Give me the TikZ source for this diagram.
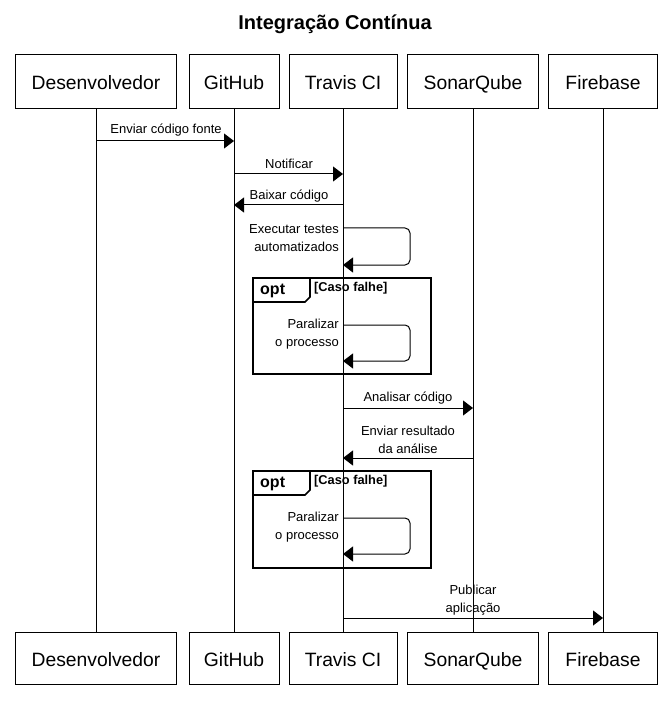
\documentclass[tikz,border=0pt]{standalone}
\usepackage{fontspec}
\setmainfont{Liberation Sans}
\usetikzlibrary{arrows.meta}
\begin{document}
\begin{tikzpicture}[x=1pt,y=-1pt,
 actor/.style={draw, line width=1pt, minimum height=54pt, inner sep=0pt, text height=16pt, text depth=0pt, font=\fontsize{19.3}{22}\selectfont},
 life/.style={line width=1pt},
 msg/.style={line width=1pt, -{Triangle[length=10pt,width=15pt]}},
 selfmsg/.style={line width=1pt, rounded corners=5pt, -{Triangle[length=10pt,width=15pt]}},
 lbl/.style={font=\fontsize{13}{18}\selectfont, inner sep=0pt},
 rlbl/.style={lbl, anchor=east, align=right},
 frm/.style={line width=1.6pt},
 optlbl/.style={font=\fontsize{16}{19}\bfseries\selectfont, inner sep=0pt, anchor=west},
 condlbl/.style={font=\fontsize{12.8}{15}\bfseries\selectfont, inner sep=0pt, anchor=west},
]
\useasboundingbox (0,0) rectangle (670,708);
\node[font=\fontsize{20}{24}\bfseries\selectfont, inner sep=0pt] (title) at (335,24) {Integração Contínua};

% actors top
\node[actor, minimum width=161pt] (dT) at (96,82) {Desenvolvedor};
\node[actor, minimum width=90pt] (gT) at (234,82) {GitHub};
\node[actor, minimum width=108pt] (tT) at (343,82) {Travis CI};
\node[actor, minimum width=131pt] (sT) at (473,82) {SonarQube};
\node[actor, minimum width=109pt] (fT) at (603,82) {Firebase};
% actors bottom
\node[actor, minimum width=161pt, minimum height=52pt] (dB) at (96,658) {Desenvolvedor};
\node[actor, minimum width=90pt, minimum height=52pt] (gB) at (234,658) {GitHub};
\node[actor, minimum width=108pt, minimum height=52pt] (tB) at (343,658) {Travis CI};
\node[actor, minimum width=131pt, minimum height=52pt] (sB) at (473,658) {SonarQube};
\node[actor, minimum width=109pt, minimum height=52pt] (fB) at (603,658) {Firebase};

% lifelines
\draw[life] (dT.south) -- (dB.north);
\draw[life] (gT.south) -- (gB.north);
\draw[life] (tT.south) -- (tB.north);
\draw[life] (sT.south) -- (sB.north);
\draw[life] (fT.south) -- (fB.north);

% frames
\draw[frm] (253,278) rectangle (431,374);
\draw[frm] (253,278) -- (310,278) -- (310,297) -- (305,302) -- (253,302);
\node[optlbl] (opt1) at (260,291) {opt};
\node[condlbl] (cond1) at (314,288) {[Caso falhe]};

\draw[frm] (253,471) rectangle (431,568);
\draw[frm] (253,471) -- (310,471) -- (310,490) -- (305,495) -- (253,495);
\node[optlbl] (opt2) at (260,484) {opt};
\node[condlbl] (cond2) at (314,481) {[Caso falhe]};

% messages
\draw[msg] (dT.south |- 0,141) -- (gT.south |- 0,141);
\node[lbl] (l1) at (166,130) {Enviar código fonte};

\draw[msg] (gT.south |- 0,174) -- (tT.south |- 0,174);
\node[lbl] (l2) at (289,164) {Notificar};

\draw[msg] (tT.south |- 0,205) -- (gT.south |- 0,205);
\node[lbl] (l3) at (289,196) {Baixar código};

\draw[selfmsg] (tT.south |- 0,228) -- (410,228) -- (410,265) -- (tT.south |- 0,265);
\node[rlbl] (l4) at (339,238) {Executar testes\\automatizados};

\draw[selfmsg] (tT.south |- 0,325) -- (410,325) -- (410,361) -- (tT.south |- 0,361);
\node[rlbl] (l5) at (339,334) {Paralizar\\o processo};

\draw[msg] (tT.south |- 0,408) -- (sT.south |- 0,408);
\node[lbl] (l6) at (408,398) {Analisar código};

\draw[msg] (sT.south |- 0,458) -- (tT.south |- 0,458);
\node[lbl, align=center] (l7) at (408,440) {Enviar resultado\\da análise};

\draw[selfmsg] (tT.south |- 0,518) -- (410,518) -- (410,554) -- (tT.south |- 0,554);
\node[rlbl] (l8) at (339,527) {Paralizar\\o processo};

\draw[msg] (tT.south |- 0,618) -- (fT.south |- 0,618);
\node[lbl, align=center] (l9) at (473,600) {Publicar\\aplicação};
\end{tikzpicture}
\end{document}
